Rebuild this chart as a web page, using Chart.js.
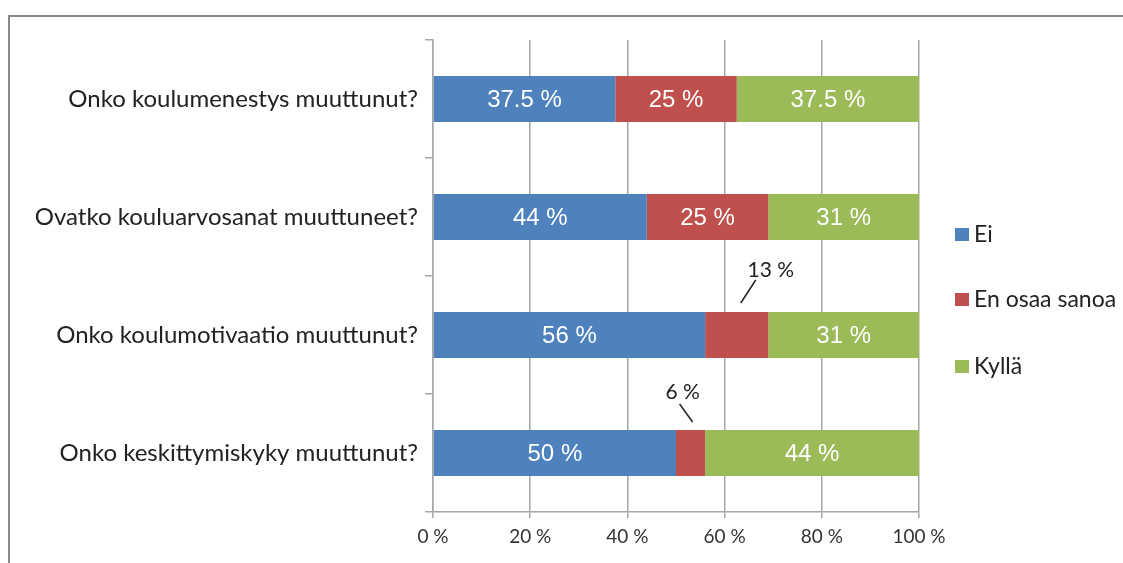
<!DOCTYPE html>
<html>
<head>
<meta charset="utf-8">
<script src="https://cdn.jsdelivr.net/npm/chart.js@4"></script>
<style>
  html, body { margin: 0; padding: 0; background: #fff; }
  #wrap { position: relative; width: 1123px; height: 563px; overflow: hidden; }
  #frame { position: absolute; left: 8px; top: 15px; width: 1200px; height: 700px; border-top: 2px solid #8a8a8a; border-left: 2px solid #8a8a8a; }
  canvas { position: absolute; left: 0; top: 0; }
</style>
</head>
<body>
<div id="wrap">
  <div id="frame"></div>
  <canvas id="c" width="1123" height="563"></canvas>
</div>
<script>
const categories = [
  "Onko koulumenestys muuttunut?",
  "Ovatko kouluarvosanat muuttuneet?",
  "Onko koulumotivaatio muuttunut?",
  "Onko keskittymiskyky muuttunut?"
];
const seriesNames = ["Ei", "En osaa sanoa", "Kyllä"];
const eiValues = [37.5, 44, 56, 50];
const enOsaaValues = [25, 25, 13, 6];
const kyllaValues = [37.5, 31, 31, 44];
const valueLabels = [
  ["37.5 %", "44 %", "56 %", "50 %"],
  ["25 %", "25 %", "13 %", "6 %"],
  ["37.5 %", "31 %", "31 %", "44 %"]
];
const xTicks = [0, 20, 40, 60, 80, 100];

const colors = ["#4f81bd", "#c0504d", "#9bbb59"];
const gridColor = "#a6a6a6";
const catFont = "Lato";

// labels drawn outside with leader line: key "dataset-index"
const outsideLabels = {
  "1-2": { line: [4, -9, 19, -32], text: [34, -42] },
  "1-3": { line: [2, -8, -11, -26], text: [-8, -38] }
};

const labelPlugin = {
  id: 'valueLabels',
  afterDatasetsDraw(chart) {
    const ctx = chart.ctx;
    chart.data.datasets.forEach((ds, di) => {
      const meta = chart.getDatasetMeta(di);
      meta.data.forEach((bar, i) => {
        const txt = valueLabels[di][i];
        const cx = (bar.x + bar.base) / 2;
        const key = di + "-" + i;
        ctx.save();
        if (outsideLabels[key]) {
          const o = outsideLabels[key];
          const top = bar.y - bar.height / 2;
          ctx.strokeStyle = "#222";
          ctx.lineWidth = 1.5;
          ctx.beginPath();
          ctx.moveTo(cx + o.line[0], top + o.line[1]);
          ctx.lineTo(cx + o.line[2], top + o.line[3]);
          ctx.stroke();
          ctx.fillStyle = "#222";
          ctx.font = "21px " + catFont;
          ctx.textAlign = "center";
          ctx.textBaseline = "middle";
          ctx.fillText(txt, cx + o.text[0], top + o.text[1]);
        } else {
          ctx.fillStyle = "#ffffff";
          ctx.font = "24px 'Liberation Sans'";
          ctx.textAlign = "center";
          ctx.textBaseline = "middle";
          ctx.fillText(txt, cx, bar.y + 1);
        }
        ctx.restore();
      });
    });
  }
};

const legendPlugin = {
  id: 'customLegend',
  afterDraw(chart) {
    const ctx = chart.ctx;
    const ys = [234, 299, 366];
    chart.data.datasets.forEach((ds, di) => {
      ctx.save();
      ctx.fillStyle = ds.backgroundColor;
      ctx.fillRect(955, ys[di] - 6, 14, 13);
      ctx.fillStyle = "#222";
      ctx.font = "23px " + catFont;
      ctx.textAlign = "left";
      ctx.textBaseline = "middle";
      ctx.fillText(ds.label, 974, ys[di] + 1);
      ctx.restore();
    });
  }
};

new Chart(document.getElementById('c'), {
  type: 'bar',
  data: {
    labels: categories,
    datasets: [
      { label: seriesNames[0], data: eiValues, backgroundColor: colors[0] },
      { label: seriesNames[1], data: enOsaaValues, backgroundColor: colors[1] },
      { label: seriesNames[2], data: kyllaValues, backgroundColor: colors[2] }
    ]
  },
  options: {
    indexAxis: 'y',
    responsive: false,
    animation: false,
    layout: { padding: { top: 40, right: 204, left: 0, bottom: 0 } },
    datasets: { bar: { barPercentage: 0.39, categoryPercentage: 1 } },
    plugins: { legend: { display: false }, tooltip: { enabled: false } },
    scales: {
      x: {
        stacked: true,
        min: 0, max: 100,
        afterBuildTicks(s) { s.ticks = xTicks.map(v => ({ value: v })); },
        afterFit(s) { s.height = 51; },
        ticks: {
          callback: v => v + " %",
          color: "#333",
          font: { family: catFont, size: 19 },
          padding: 7,
          maxRotation: 0
        },
        grid: { color: gridColor, lineWidth: 1.5, tickLength: 6, tickColor: gridColor },
        border: { display: true, color: gridColor, width: 1.5 }
      },
      y: {
        stacked: true,
        afterFit(s) { s.width = 433; },
        ticks: {
          color: "#222",
          font: { family: catFont, size: 24 },
          padding: 7
        },
        grid: { offset: true, drawOnChartArea: false, color: gridColor, lineWidth: 1.5, tickLength: 8 },
        border: { display: true, color: gridColor, width: 1.5 }
      }
    }
  },
  plugins: [labelPlugin, legendPlugin]
});
</script>
</body>
</html>
